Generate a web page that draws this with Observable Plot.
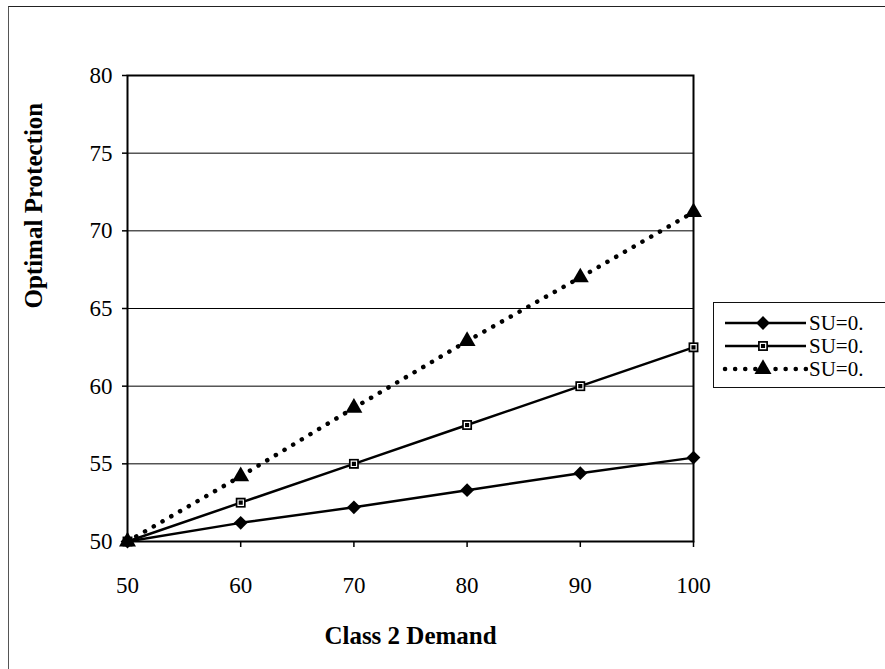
<!DOCTYPE html>
<html>
<head>
<meta charset="utf-8">
<script src="https://cdn.jsdelivr.net/npm/d3@7"></script>
<script src="https://cdn.jsdelivr.net/npm/@observablehq/plot@0.6"></script>
<style>
  html, body { margin: 0; padding: 0; background: #fff; overflow: hidden; }
  #wrap { position: relative; width: 885px; height: 669px; overflow: hidden; font-family: "Liberation Serif", "Times New Roman", serif; }
  #border { position: absolute; left: 8px; top: 6px; width: 1000px; height: 800px; border-top: 1.5px solid #222; border-left: 1px solid #555; }
  #chart { position: absolute; left: 0; top: 0; }
  #legend { position: absolute; left: 713px; top: 302px; width: 220px; height: 84px; border: 1.5px solid #111; background: #fff; }
  #chart svg text { font-family: "Liberation Serif", "Times New Roman", serif; }
</style>
</head>
<body>
<div id="wrap">
  <div id="border"></div>
  <div id="chart"></div>
  <div id="legend"></div>
</div>
<script>
const demand = [50, 60, 70, 80, 90, 100];
const seriesNames = ["SU=0.", "SU=0.", "SU=0."];
const seriesA = [50, 51.2, 52.2, 53.3, 54.4, 55.4];
const seriesB = [50, 52.5, 55.0, 57.5, 60.0, 62.5];
const seriesC = [50, 54.2, 58.6, 62.9, 67.0, 71.2];
const xTicks = [50, 60, 70, 80, 90, 100];
const yTicks = [50, 55, 60, 65, 70, 75, 80];
const gridValues = [55, 60, 65, 70, 75];
const xLabel = "Class 2 Demand";
const yLabel = "Optimal Protection";

const toRows = (vals, k) => demand.map((d, i) => ({x: d, y: vals[i], k}));
const rowsA = toRows(seriesA, 0);
const rowsB = toRows(seriesB, 1);
const rowsC = toRows(seriesC, 2);

const font = "'Liberation Serif', 'Times New Roman', serif";

const chart = Plot.plot({
  width: 885,
  height: 669,
  marginLeft: 127,
  marginRight: 192,
  marginTop: 75,
  marginBottom: 128,
  style: { fontFamily: font, background: "transparent", color: "black" },
  x: { domain: [50, 100] },
  y: { domain: [50, 80] },
  marks: [
    Plot.ruleY(gridValues, { stroke: "black", strokeWidth: 1 }),
    Plot.frame({ stroke: "black", strokeWidth: 2 }),
    Plot.axisY({ ticks: yTicks, tickSize: 5, tickPadding: 10, fontSize: 23, fontFamily: font, label: null, stroke: "black", strokeWidth: 1.5 }),
    Plot.axisX({ ticks: xTicks, tickSize: 6, tickPadding: 29, fontSize: 23, fontFamily: font, label: null, stroke: "black", strokeWidth: 1.5 }),
    Plot.text([xLabel], { frameAnchor: "bottom", dy: 102, text: d => d, fontSize: 25, fontWeight: "bold", fontFamily: font }),
    Plot.text([yLabel], { frameAnchor: "left", dx: -94, rotate: -90, text: d => d, fontSize: 25, fontWeight: "bold", fontFamily: font }),
    Plot.line(rowsA, { x: "x", y: "y", stroke: "black", strokeWidth: 2.5 }),
    Plot.line(rowsB, { x: "x", y: "y", stroke: "black", strokeWidth: 2.5 }),
    Plot.line(rowsC, { x: "x", y: "y", stroke: "black", strokeWidth: 4.5, strokeDasharray: "0.1 10", strokeLinecap: "round" }),
    Plot.dot(rowsA, { x: "x", y: "y", symbol: "diamond2", r: 6.2, fill: "black", stroke: "none" }),
    Plot.dot(rowsB, { x: "x", y: "y", symbol: "square", r: 5.6, fill: "black", stroke: "none" }),
    Plot.dot(rowsB, { x: "x", y: "y", symbol: "square", r: 3, fill: "none", stroke: "white", strokeWidth: 1.2 }),
    Plot.dot(rowsC, { x: "x", y: "y", symbol: "triangle", r: 6.3, fill: "black", stroke: "none" })
  ]
});
document.getElementById("chart").appendChild(chart);

// Legend
const lg = d3.select("#legend").append("svg").attr("width", 220).attr("height", 84);
const rowY = [20, 43, 66];
const styles = [
  { dash: null, width: 2.5, sym: d3.symbolDiamond2, size: Math.PI * 6.2 * 6.2 },
  { dash: null, width: 2.5, sym: d3.symbolSquare, size: Math.PI * 5.6 * 5.6, inner: true },
  { dash: "0.1 10", width: 4.5, sym: d3.symbolTriangle, size: Math.PI * 6.3 * 6.3 }
];
seriesNames.forEach((name, i) => {
  const s = styles[i];
  const y = rowY[i];
  const ln = lg.append("line").attr("x1", 11).attr("x2", 92).attr("y1", y).attr("y2", y)
    .attr("stroke", "black").attr("stroke-width", s.width);
  if (s.dash) ln.attr("stroke-dasharray", s.dash).attr("stroke-linecap", "round");
  lg.append("path").attr("d", d3.symbol(s.sym, s.size)()).attr("transform", `translate(49,${y})`)
    .attr("fill", "black");
  if (s.inner) lg.append("path").attr("d", d3.symbol(d3.symbolSquare, Math.PI * 9)()).attr("transform", `translate(49,${y})`)
    .attr("fill", "none").attr("stroke", "white").attr("stroke-width", 1.2);
  lg.append("text").attr("x", 95).attr("y", y).attr("dy", "0.35em").attr("font-size", 21)
    .attr("font-family", font).text(name);
});
</script>
</body>
</html>
